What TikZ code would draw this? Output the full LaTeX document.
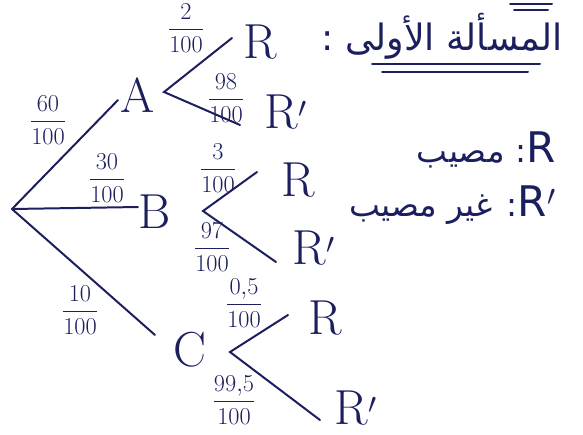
\documentclass[tikz,border=0pt]{standalone}
\usepackage{amsmath}
\usepackage{fontspec}
\newfontfamily\arabicfont[Script=Arabic]{DejaVu Sans}
\TeXXeTstate=1
\usetikzlibrary{positioning}
\definecolor{ink}{HTML}{1B1F5E}

\begin{document}
\begin{tikzpicture}[x=0.03cm, y=-0.03cm,
    br/.style={line width=1.7pt, draw=ink, line cap=round},
    lt/.style={font=\fontsize{42}{44}\selectfont, text=ink, inner sep=0pt},
    pr/.style={font=\fontsize{21}{23}\selectfont, text=ink, inner sep=0pt},
    ar/.style={font=\arabicfont\fontsize{28}{30}\selectfont, text=ink, inner sep=0pt}
]
\useasboundingbox (0,0) rectangle (583,434);

% first level
\coordinate (o) at (12,209);
\coordinate (oa) at (118,100);
\coordinate (ob) at (138,207);
\coordinate (oc) at (155,335);
\node[lt] (A) at (138,95) {A};
\node[lt] (B) at (155,212) {B};
\node[lt] (C) at (190,350) {C};
\draw[br] (o) -- (oa);
\draw[br] (o) -- (ob);
\draw[br] (o) -- (oc);
\node[pr] (pA) at (48,120) {$\dfrac{60}{100}$};
\node[pr] (pB) at (107,178) {$\dfrac{30}{100}$};
\node[pr] (pC) at (80,310) {$\dfrac{10}{100}$};

% second level, A
\coordinate (a0) at (164,92);
\coordinate (a1) at (232,38);
\coordinate (a2) at (240,125);
\node[lt] (RA) at (260,42) {R};
\node[lt] (RA') at (286,112) {R$'$};
\draw[br] (a1) -- (a0) -- (a2);
\node[pr] (pRA) at (186,28) {$\dfrac{2}{100}$};
\node[pr] (pRA') at (226,98) {$\dfrac{98}{100}$};

% second level, B
\coordinate (b0) at (203,211);
\coordinate (b1) at (257,172);
\coordinate (b2) at (276,262);
\node[lt] (RB) at (298,180) {R};
\node[lt] (RB') at (314,248) {R$'$};
\draw[br] (b1) -- (b0) -- (b2);
\node[pr] (pRB) at (218,168) {$\dfrac{3}{100}$};
\node[pr] (pRB') at (212,247) {$\dfrac{97}{100}$};

% second level, C
\coordinate (c0) at (230,352);
\coordinate (c1) at (288,315);
\coordinate (c2) at (320,420);
\node[lt] (RC) at (325,318) {R};
\node[lt] (RC') at (356,408) {R$'$};
\draw[br] (c1) -- (c0) -- (c2);
\node[pr] (pRC) at (244,303) {$\dfrac{0{,}5}{100}$};
\node[pr] (pRC') at (234,400) {$\dfrac{99{,}5}{100}$};

% title and legend
\node[ar, font=\arabicfont\fontsize{31}{33}\selectfont] (title) at (442,36) {\beginR المسألة الأولى :\endR};
\draw[br] (372,64) -- (540,64);
\draw[br] (382,72) -- (528,72);
\draw[br] (510,4) -- (552,4);
\draw[br] (514,10) -- (548,10);
\node[ar, anchor=east] (leg1) at (556,150) {\beginR\beginL{\fontsize{36}{38}\selectfont R}\endL: مصيب\endR};
\node[ar, anchor=east] (leg2) at (556,205) {\beginR\beginL{\fontsize{36}{38}\selectfont R$'$}\endL: غير مصيب\endR};
\end{tikzpicture}
\end{document}
